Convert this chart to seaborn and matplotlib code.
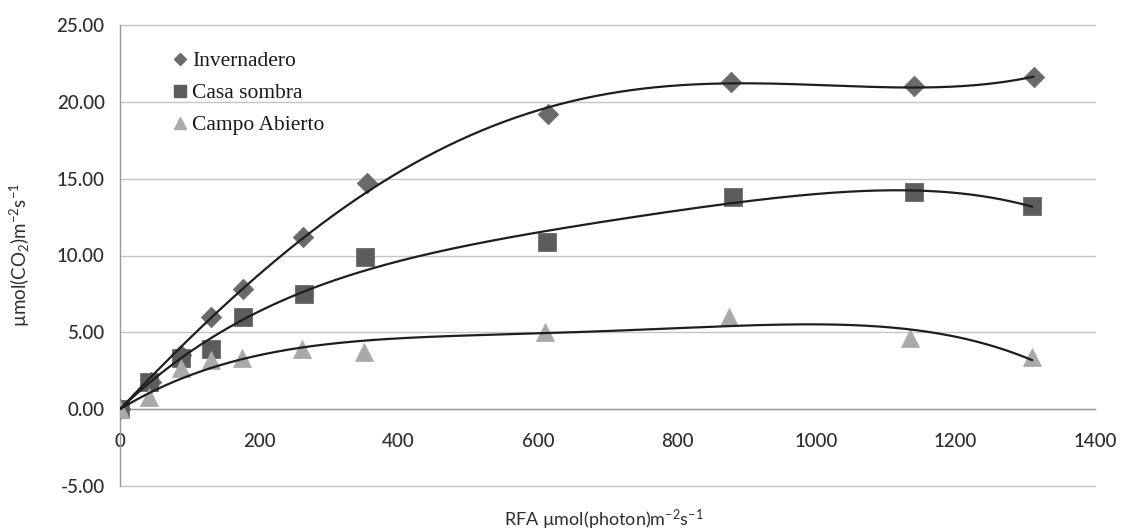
import numpy as np
import pandas as pd
import matplotlib
matplotlib.use("Agg")
import matplotlib.pyplot as plt
import seaborn as sns
from matplotlib.lines import Line2D

# ---- data ----
series_names = ["Invernadero", "Casa sombra", "Campo Abierto"]

inv_x = [0, 45, 88, 130, 177, 263, 354, 615, 878, 1140, 1312]
inv_y = [0.0, 1.8, 3.5, 6.0, 7.8, 11.2, 14.7, 19.2, 21.3, 21.0, 21.6]

cas_x = [0, 42, 88, 130, 177, 264, 352, 613, 880, 1140, 1310]
cas_y = [0.0, 1.8, 3.3, 3.9, 6.0, 7.5, 9.9, 10.9, 13.8, 14.1, 13.2]

cam_x = [0, 42, 88, 130, 175, 262, 350, 610, 875, 1135, 1310]
cam_y = [0.0, 0.8, 2.7, 3.2, 3.3, 3.9, 3.7, 5.0, 6.0, 4.6, 3.4]

x_ticks = [0, 200, 400, 600, 800, 1000, 1200, 1400]
y_ticks = [-5, 0, 5, 10, 15, 20, 25]

x_label = "RFA µmol(photon)m$^{-2}$s$^{-1}$"
y_label = "µmol(CO$_2$)m$^{-2}$s$^{-1}$"

# ---- styling ----
sns.set_theme(style="white")
plt.rcParams["font.family"] = ["Lato", "DejaVu Sans"]
plt.rcParams["mathtext.fontset"] = "custom"
plt.rcParams["mathtext.rm"] = "Lato"
plt.rcParams["mathtext.it"] = "Lato:italic"
plt.rcParams["mathtext.bf"] = "Lato:bold"

fig = plt.figure(figsize=(11.22, 5.31), dpi=100)
ax = fig.add_axes([120 / 1122, 1 - 486 / 531, (1095 - 120) / 1122, (486 - 25) / 531])

styles = {
    "Invernadero": dict(marker="D", color="#6a6a6a", size=110),
    "Casa sombra": dict(marker="s", color="#5c5c5c", size=170),
    "Campo Abierto": dict(marker="^", color="#a9a9a9", size=170),
}
data = {
    "Invernadero": (inv_x, inv_y),
    "Casa sombra": (cas_x, cas_y),
    "Campo Abierto": (cam_x, cam_y),
}
orders = {"Invernadero": 4, "Casa sombra": 4, "Campo Abierto": 4}

for name in series_names:
    xs, ys = data[name]
    st = styles[name]
    df = pd.DataFrame({"x": xs, "y": ys})
    sns.scatterplot(data=df, x="x", y="y", ax=ax, marker=st["marker"],
                    color=st["color"], s=st["size"], edgecolor=st["color"],
                    linewidth=0.5, zorder=3, legend=False)
    # polynomial trendline through origin (Excel-style)
    xa = np.asarray(xs, float)
    ya = np.asarray(ys, float)
    k = orders[name]
    V = np.vstack([xa ** p for p in range(1, k + 1)]).T
    coef, *_ = np.linalg.lstsq(V, ya, rcond=None)
    xx = np.linspace(0, xa.max(), 400)
    yy = sum(c * xx ** (p + 1) for p, c in enumerate(coef))
    ax.plot(xx, yy, color="#1e1e1e", lw=1.6, zorder=4)

ax.set_xlim(0, 1400)
ax.set_ylim(-5, 25)
ax.set_xticks(x_ticks)
ax.set_yticks(y_ticks)
ax.set_yticklabels([f"{v:.2f}" for v in y_ticks])
ax.set_xticklabels([str(v) for v in x_ticks])

ax.yaxis.grid(True, color="#c4c4c4", lw=1.0)
ax.xaxis.grid(False)
ax.set_axisbelow(True)
for gl in ax.get_ygridlines():
    gl.set_clip_on(False)

for s in ["top", "right"]:
    ax.spines[s].set_visible(False)
ax.spines["bottom"].set_position(("data", 0))
ax.spines["bottom"].set_color("#9a9a9a")
ax.spines["left"].set_color("#9a9a9a")
ax.spines["left"].set_linewidth(1.0)
ax.spines["bottom"].set_linewidth(1.0)

ax.tick_params(axis="x", direction="out", length=5, width=1, color="#9a9a9a",
               labelsize=13.5, labelcolor="#2e2e2e", pad=12)
ax.tick_params(axis="y", direction="out", length=5, width=1, color="#9a9a9a",
               labelsize=13.5, labelcolor="#2e2e2e", pad=6)
for lab in ax.get_xticklabels() + ax.get_yticklabels():
    lab.set_fontweight("medium")

ax.set_xlabel("")
ax.set_ylabel("")
fig.text(604 / 1122, 1 - 520 / 531, x_label, ha="center", va="center",
         fontsize=13, color="#2e2e2e")
fig.text(20 / 1122, 1 - 255 / 531, y_label, ha="center", va="center",
         rotation=90, fontsize=13.5, color="#2e2e2e")

handles = [Line2D([0], [0], marker=styles[n]["marker"], linestyle="none",
                  color=styles[n]["color"], markersize=8 if n != "Invernadero" else 6.5)
           for n in series_names]
leg = ax.legend(handles, series_names, loc="upper left",
                bbox_to_anchor=(0.035, 0.985), frameon=False,
                handlelength=0.6, handletextpad=0.25, labelspacing=0.55,
                prop={"family": "Liberation Serif", "size": 15.5})
for t in leg.get_texts():
    t.set_color("#1a1a1a")

fig.savefig("out.png", dpi=100)
